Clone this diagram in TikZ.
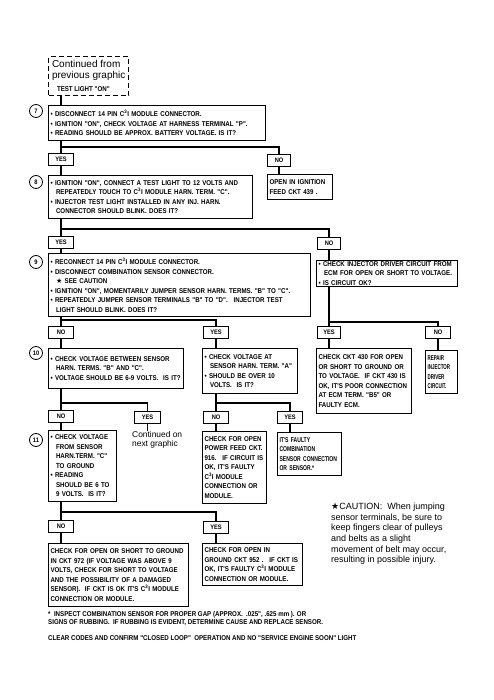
\documentclass[tikz,border=0pt]{standalone}
\usepackage{fontspec}
\setmainfont{Liberation Sans}
\newfontfamily\boxfont[FakeStretch=0.88]{Liberation Sans}
\newfontfamily\condfont[FakeStretch=0.72]{Liberation Sans}
\newfontfamily\thinfont[FakeStretch=0.64]{Liberation Sans}
\newfontfamily\symbfont{DejaVu Sans}
\usetikzlibrary{positioning}

\newcommand{\boxtext}{\boxfont\bfseries\fontsize{7}{9.5}\selectfont}
\newcommand{\bul}{\textbullet\ }
\newcommand{\ind}{\hspace*{5.5pt}}
\newcommand{\cti}{C\textsuperscript{3}I}

\begin{document}
\begin{tikzpicture}[x=1pt, y=-1pt,
    stepbox/.style={draw, line width=1.1pt, anchor=north west, align=left,
        inner xsep=2pt, inner ysep=1pt, font=\boxtext},
    answer/.style={draw, line width=1.1pt, anchor=north west, minimum width=25pt,
        minimum height=12pt, inner sep=0pt, font=\boxfont\bfseries\fontsize{6.5}{7}\selectfont},
    stepnum/.style={circle, draw, line width=0.8pt, minimum size=13pt, inner sep=0pt,
        font=\boxfont\bfseries\fontsize{6.5}{7}\selectfont},
    link/.style={line width=1.8pt},
    prevbox/.style={draw, dash pattern=on 5pt off 3pt, line width=1.4pt, anchor=north west,
        align=left, inner xsep=3pt, inner ysep=2pt, font=\fontsize{10}{11}\selectfont},
    remark/.style={anchor=north west, align=left, inner sep=0pt}]

\useasboundingbox (0,0) rectangle (494,700);

% step 7
\node[prevbox, minimum width=80pt, minimum height=39pt] (prev) at (48,56)
    {Continued from\\previous graphic\\[2pt]{\boxtext\hspace*{5pt}TEST LIGHT "ON"}};
\node[stepnum] (c7) at (36,111) {7};
\node[stepbox, text width=213pt, minimum height=35pt] (s7) at (48,105)
    {\bul DISCONNECT 14 PIN \cti\ MODULE CONNECTOR.\\
     \bul IGNITION "ON", CHECK VOLTAGE AT HARNESS TERMINAL "P".\\
     \bul READING SHOULD BE APPROX. BATTERY VOLTAGE. IS IT?};
\node[answer] (s7yes) at (48,153) {YES};
\node[answer, minimum width=23pt] (s7no) at (267,154) {NO};
\node[stepbox, text width=61pt, minimum height=25pt] (feed7) at (267,174)
    {OPEN IN IGNITION\\FEED CKT 439 .};
\coordinate (j7) at ([yshift=6pt]s7yes.north);

\draw[link] (prev.south -| s7yes) -- (s7.north -| s7yes);
\draw[link] (s7.south -| s7yes) -- (s7yes.north);
\draw[link] (j7) -| (s7no.north);
\draw[link] (s7no.south) -- (feed7.north -| s7no);

% step 8
\node[stepnum] (c8) at (36,182) {8};
\node[stepbox, text width=200pt, minimum height=43pt] (s8) at (48,175)
    {\bul IGNITION "ON", CONNECT A TEST LIGHT TO 12 VOLTS AND\\
     \ind REPEATEDLY TOUCH TO \cti\ MODULE HARN. TERM. "C".\\
     \bul INJECTOR TEST LIGHT INSTALLED IN ANY INJ. HARN.\\
     \ind CONNECTOR SHOULD BLINK. DOES IT?};
\node[answer] (s8yes) at (48,236) {YES};
\node[answer, minimum width=23pt] (s8no) at (317,237) {NO};
\node[stepbox, text width=137pt, minimum height=26pt] (drv) at (316,260)
    {\bul CHECK INJECTOR DRIVER CIRCUIT FROM\\
     \ind ECM FOR OPEN OR SHORT TO VOLTAGE.\\
     \bul IS CIRCUIT OK?};
\coordinate (j8) at ([yshift=7pt]s8yes.north);

\draw[link] (s7yes.south) -- (s8.north -| s7yes);
\draw[link] (s8.south -| s8yes) -- (s8yes.north);
\draw[link] (j8) -| (s8no.north);
\draw[link] (s8no.south) -- (drv.north -| s8no);

% step 9
\node[stepnum] (c9) at (36,262) {9};
\node[stepbox, text width=258pt, minimum height=63pt] (s9) at (48,253)
    {\bul RECONNECT 14 PIN \cti\ MODULE CONNECTOR.\\
     \bul DISCONNECT COMBINATION SENSOR CONNECTOR.\\
     \ind{\symbfont ★} SEE CAUTION\\
     \bul IGNITION "ON", MOMENTARILY JUMPER SENSOR HARN. TERMS. "B" TO "C".\\
     \bul REPEATEDLY JUMPER SENSOR TERMINALS "B" TO "D". \ INJECTOR TEST\\
     \ind LIGHT SHOULD BLINK. DOES IT?};
\node[answer] (s9no) at (48,326) {NO};
\node[answer] (s9yes) at (203,326) {YES};
\node[answer, minimum width=23pt] (drvyes) at (317,326) {YES};
\node[answer] (drvno) at (425,326) {NO};
\coordinate (j9) at ([yshift=6pt]s9no.north);
\coordinate (jd) at ([yshift=4pt]drvyes.north);

\draw[link] (s8yes.south) -- (s9.north -| s8yes);
\draw[link] (s9.south -| s9no) -- (s9no.north);
\draw[link] (j9) -| (s9yes.north);
\draw[link] (drv.south -| drvyes) -- (drvyes.north);
\draw[link] (jd) -| (drvno.north);

\node[stepbox, text width=91pt, minimum height=65pt] (drvok) at (316,348)
    {CHECK CKT 430 FOR OPEN\\OR SHORT TO GROUND OR\\TO VOLTAGE. \ IF CKT 430 IS\\
     OK, IT'S POOR CONNECTION\\AT ECM TERM. "B5" OR\\FAULTY ECM.};
\node[stepbox, text width=28pt, minimum height=43pt,
    font=\thinfont\bfseries\fontsize{7}{9.5}\selectfont] (drvbad) at (425,350)
    {REPAIR\\INJECTOR\\DRIVER\\CIRCUIT.};
\draw[link] (drvyes.south) -- (drvok.north -| drvyes);
\draw[link] (drvno.south) -- (drvbad.north -| drvno);

% step 10
\node[stepnum] (c10) at (36,353) {10};
\node[stepbox, text width=131pt, minimum height=40pt] (s10) at (48,348)
    {\bul CHECK VOLTAGE BETWEEN SENSOR\\
     \ind HARN. TERMS. "B" AND "C".\\
     \bul VOLTAGE SHOULD BE 6-9 VOLTS. \ IS IT?};
\node[stepbox, text width=91pt, minimum height=45pt] (volta) at (202,348)
    {\bul CHECK VOLTAGE AT\\
     \ind SENSOR HARN. TERM. "A"\\
     \bul SHOULD BE OVER 10\\
     \ind VOLTS. \ IS IT?};
\draw[link] (s9no.south) -- (s10.north -| s9no);
\draw[link] (s9yes.south) -- (volta.north -| s9yes);

\node[answer] (s10no) at (48,410) {NO};
\node[answer, minimum width=26pt] (s10yes) at (134,411) {YES};
\node[answer] (voltano) at (203,411) {NO};
\node[answer] (voltayes) at (277,411) {YES};
\coordinate (j10) at ([yshift=7pt]s10no.north);
\coordinate (jv) at ([yshift=8pt]voltano.north);

\draw[link] (s10.south -| s10no) -- (s10no.north);
\draw[link] (j10) -| (s10yes.north);
\draw[link] (volta.south -| voltano) -- (voltano.north);
\draw[link] (jv) -| (voltayes.north);

\node[remark, font=\fontsize{8.4}{9.5}\selectfont] (next) at (132,431)
    {Continued on\\next graphic};
\node[stepbox, text width=60pt, minimum height=72pt] (power) at (202,431)
    {CHECK FOR OPEN\\POWER FEED CKT.\\916. \ IF CIRCUIT IS\\OK, IT'S FAULTY\\
     \cti\ MODULE\\CONNECTION OR\\MODULE.};
\node[stepbox, text width=60pt, minimum height=43pt,
    font=\condfont\bfseries\fontsize{7}{9.5}\selectfont] (sensor) at (277,432)
    {IT'S FAULTY\\COMBINATION\\SENSOR CONNECTION\\OR SENSOR.*};
\draw[link] (s10yes.south) -- (next.north -| s10yes);
\draw[link] (voltano.south) -- (power.north -| voltano);
\draw[link] (voltayes.south) -- (sensor.north -| voltayes);

% step 11
\node[stepnum] (c11) at (36,440) {11};
\node[stepbox, text width=64pt, minimum height=71pt] (s11) at (48,430)
    {\bul CHECK VOLTAGE\\
     \ind FROM SENSOR\\
     \ind HARN.TERM. "C"\\
     \ind TO GROUND\\
     \bul READING\\
     \ind SHOULD BE 6 TO\\
     \ind 9 VOLTS. \ IS IT?};
\draw[link] (s10no.south) -- (s11.north -| s10no);

\node[answer] (s11no) at (48,520) {NO};
\node[answer] (s11yes) at (203,521) {YES};
\coordinate (j11) at ([yshift=8pt]s11no.north);
\draw[link] (s11.south -| s11no) -- (s11no.north);
\draw[link] (j11) -| (s11yes.north);

\node[stepbox, text width=136pt, minimum height=63pt] (short) at (48,543)
    {CHECK FOR OPEN OR SHORT TO GROUND\\IN CKT 972 (IF VOLTAGE WAS ABOVE 9\\
     VOLTS, CHECK FOR SHORT TO VOLTAGE\\AND THE POSSIBILITY OF A DAMAGED\\
     SENSOR). \ IF CKT IS OK IT'S \cti\ MODULE\\CONNECTION OR MODULE.};
\node[stepbox, text width=96pt, minimum height=42pt] (ground) at (202,543)
    {CHECK FOR OPEN IN\\GROUND CKT 952 . \ IF CKT IS\\
     OK, IT'S FAULTY \cti\ MODULE\\CONNECTION OR MODULE.};
\draw[link] (s11no.south) -- (short.north -| s11no);
\draw[link] (s11yes.south) -- (ground.north -| s11yes);

% caution and notes
\node[remark, font=\fontsize{9}{10.6}\selectfont] (caution) at (331,503)
    {{\symbfont ★}CAUTION: \ When jumping\\sensor terminals, be sure to\\
     keep fingers clear of pulleys\\and belts as a slight\\
     movement of belt may occur,\\resulting in possible injury.};
\node[remark, font=\boxfont\bfseries\fontsize{7}{8}\selectfont] (gap) at (48,611)
    {* \ INSPECT COMBINATION SENSOR FOR PROPER GAP (APPROX. \ .025", .625 mm ). OR\\
     SIGNS OF RUBBING. \ IF RUBBING IS EVIDENT, DETERMINE CAUSE AND REPLACE SENSOR.};
\node[remark, font=\boxfont\bfseries\fontsize{7}{8}\selectfont] (clear) at (48,635)
    {CLEAR CODES AND CONFIRM "CLOSED LOOP" \ OPERATION AND NO "SERVICE ENGINE SOON" LIGHT};
\end{tikzpicture}
\end{document}
